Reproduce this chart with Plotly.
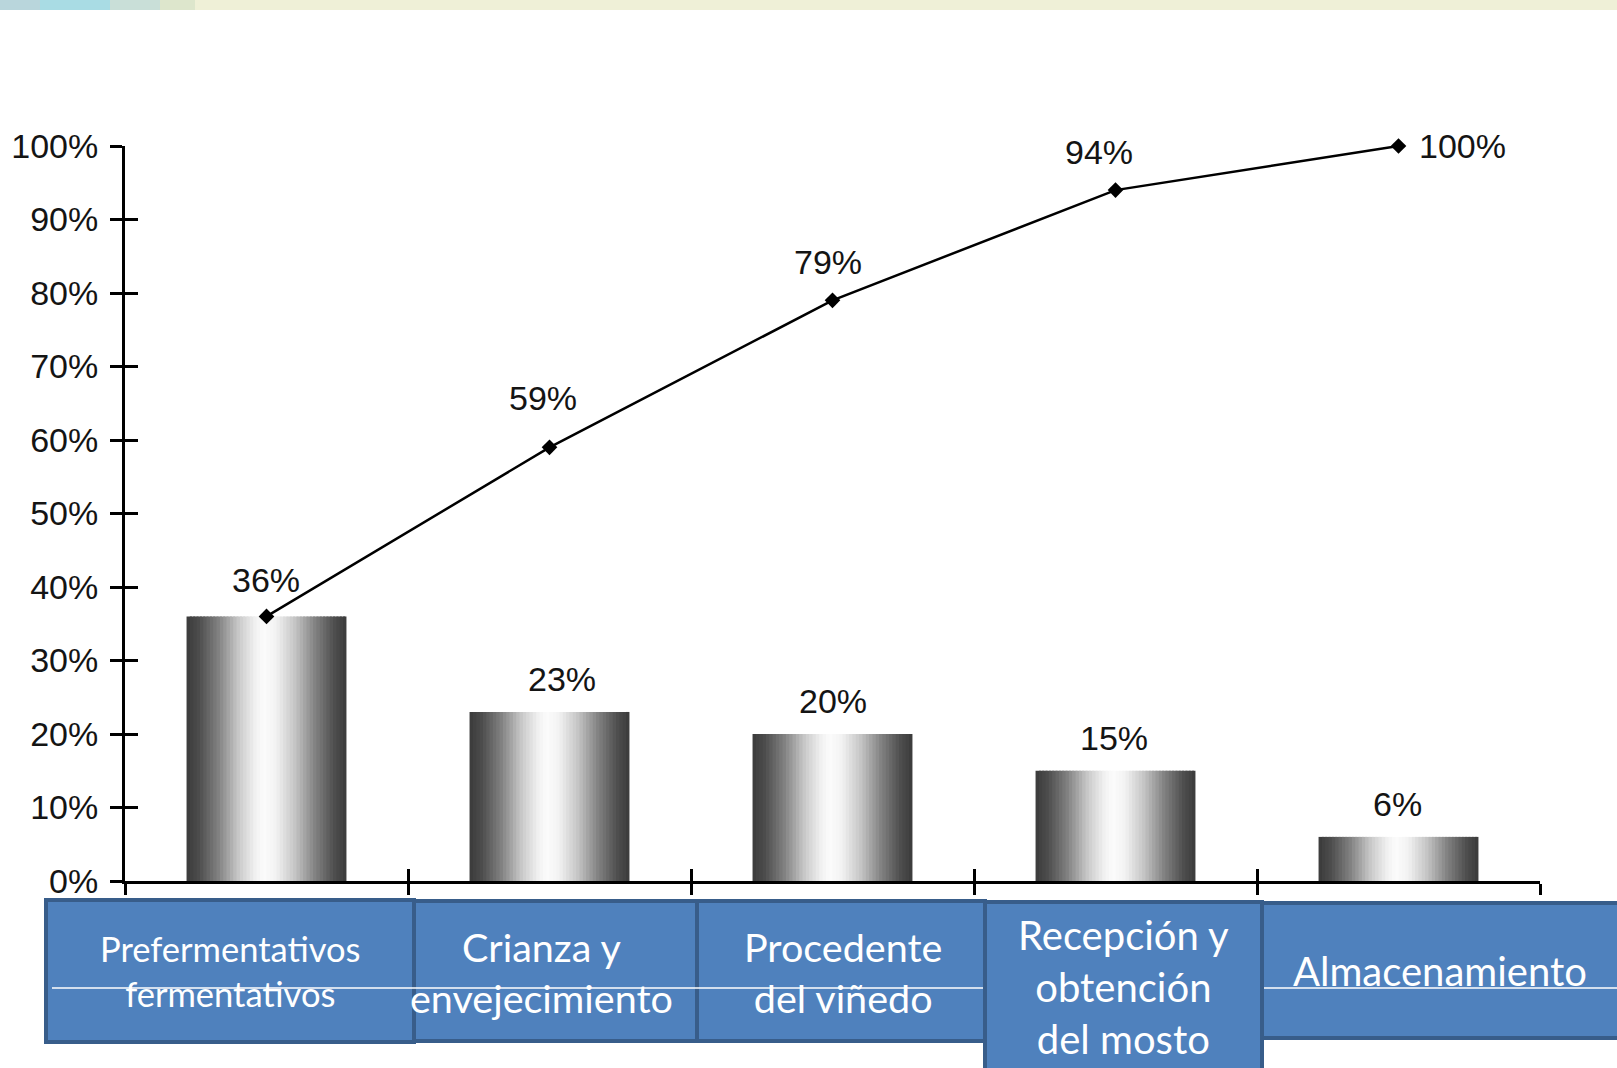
import numpy as np
import plotly.graph_objects as go

# --- data ---------------------------------------------------------------
categories = [
    "Prefermentativos fermentativos",
    "Crianza y envejecimiento",
    "Procedente del viñedo",
    "Recepción y obtención del mosto",
    "Almacenamiento",
]
share_pct = [36, 23, 20, 15, 6]          # share of each stage (bars)
cumulative_pct = [36, 59, 79, 94, 100]   # cumulative share (Pareto line)
y_ticks = [0, 10, 20, 30, 40, 50, 60, 70, 80, 90, 100]
box_labels = [
    "Prefermentativos<br>fermentativos",
    "Crianza y<br>envejecimiento",
    "Procedente<br>del viñedo",
    "Recepción y<br>obtención<br>del mosto",
    "Almacenamiento",
]

# --- canvas / helpers ---------------------------------------------------
W, H = 1617, 1068


def px(x):
    return x / W


def py(y):
    return 1 - y / H


fig = go.Figure()

# Cylinder-like shading: each bar is built from narrow vertical strips
bar_width = 0.565
n_strips = 48
t_ctrl = [0.0, 0.08, 0.2, 0.32, 0.42, 0.48, 0.56, 0.68, 0.8, 0.92, 1.0]
g_ctrl = [58, 78, 130, 198, 238, 252, 242, 196, 132, 80, 58]
strip_w = bar_width / n_strips
for k in range(n_strips):
    t = (k + 0.5) / n_strips
    g = int(round(np.interp(t, t_ctrl, g_ctrl)))
    fig.add_trace(go.Bar(
        x=categories, y=share_pct,
        offset=-bar_width / 2 + k * strip_w,
        width=strip_w * 1.6 if k < n_strips - 1 else strip_w,
        marker=dict(color=f"rgb({g},{g},{g})", line=dict(width=0)),
        hoverinfo="skip", showlegend=False,
    ))

# Cumulative line
fig.add_trace(go.Scatter(
    x=categories, y=cumulative_pct,
    mode="lines+markers",
    line=dict(color="black", width=2.5),
    marker=dict(symbol="diamond", size=12, color="black"),
    cliponaxis=False, showlegend=False,
))

# Companion axes that carry the inner half of the crossing tick marks
fig.add_trace(go.Scatter(
    x=categories, y=share_pct, xaxis="x2", yaxis="y2",
    mode="markers", marker=dict(opacity=0), hoverinfo="skip", showlegend=False,
))

label_font = dict(family="Liberation Sans, Arial, sans-serif", size=34, color="#141414")

annotations = []
# labels on the bars (the first coincides with the first cumulative label)
bar_label_dx = [0, 12, 0, -2, -1]
for i, (c, v) in enumerate(zip(categories, share_pct)):
    if i == 0:
        continue
    annotations.append(dict(
        x=c, y=v, xref="x", yref="y", text=f"{v}%", showarrow=False,
        xanchor="center", yanchor="middle", xshift=bar_label_dx[i], yshift=33,
        font=label_font,
    ))
# labels on the cumulative line
line_shift = [(-1, 36), (-7, 49), (-5, 38), (-17, 38)]
for i, (c, v) in enumerate(zip(categories, cumulative_pct)):
    if i < len(line_shift):
        dx, dy = line_shift[i]
        annotations.append(dict(
            x=c, y=v, xref="x", yref="y", text=f"{v}%", showarrow=False,
            xanchor="center", yanchor="middle", xshift=dx, yshift=dy, font=label_font,
        ))
    else:
        annotations.append(dict(
            x=c, y=v, xref="x", yref="y", text=f"{v}%", showarrow=False,
            xanchor="left", yanchor="middle", xshift=18, yshift=0, font=label_font,
        ))

# --- stage boxes under the axis ----------------------------------------
box_fill = "#4f81bd"
box_edge = "#385d8a"
# (left, top, right, bottom) in pixels, drawn in this stacking order
boxes = {
    1: (380, 901, 699, 1041),
    2: (697, 901, 985, 1041),
    4: (1258, 903, 1625, 1038),
    0: (46, 900, 414, 1042),
    3: (985, 902, 1262, 1080),
}
box_text = {
    0: dict(size=34.5, lines_y=971, dx=0),
    1: dict(size=39.5, lines_y=972, dx=2),
    2: dict(size=39.5, lines_y=972, dx=2),
    3: dict(size=40, lines_y=987, dx=0),
    4: dict(size=40, lines_y=971, dx=0),
}

shapes = []
# pale banner strip along the top edge
shapes.append(dict(type="rect", xref="paper", yref="paper", x0=0, x1=1,
                   y0=py(10), y1=1, fillcolor="#eff0d7", line=dict(width=0), layer="below"))
for x0, x1, col in [(0, 40, "#b9d6dc"), (40, 110, "#a9dce4"), (110, 160, "#c9dfd8"),
                    (160, 195, "#dde6cc")]:
    shapes.append(dict(type="rect", xref="paper", yref="paper", x0=px(x0), x1=px(x1),
                       y0=py(10), y1=1, fillcolor=col, line=dict(width=0), layer="below"))

for idx in [1, 2, 4, 0]:
    l, t, r, b = boxes[idx]
    shapes.append(dict(type="rect", xref="paper", yref="paper",
                       x0=px(l), x1=px(r), y0=py(b), y1=py(t),
                       fillcolor=box_fill, line=dict(color=box_edge, width=4), layer="above"))
# thin white rule running across the boxes
shapes.append(dict(type="line", xref="paper", yref="paper",
                   x0=px(52), x1=px(1617), y0=py(988), y1=py(988),
                   line=dict(color="white", width=1.5), layer="above"))
l, t, r, b = boxes[3]
shapes.append(dict(type="rect", xref="paper", yref="paper",
                   x0=px(l), x1=px(r), y0=py(b), y1=py(t),
                   fillcolor=box_fill, line=dict(color=box_edge, width=4), layer="above"))

for idx, lab in enumerate(box_labels):
    l, t, r, b = boxes[idx]
    cx = (l + min(r, 1622)) / 2 + box_text[idx]["dx"]
    annotations.append(dict(
        x=px(cx), y=py(box_text[idx]["lines_y"]), xref="paper", yref="paper",
        text=lab, showarrow=False, xanchor="center", yanchor="middle", align="center",
        font=dict(family="Lato, Noto Sans, sans-serif", size=box_text[idx]["size"], color="white"),
    ))

x_dom = [px(125), px(1540)]
y_dom = [py(881), py(146)]

fig.update_layout(
    width=W, height=H,
    margin=dict(l=0, r=0, t=0, b=0, autoexpand=False),
    paper_bgcolor="white", plot_bgcolor="white",
    barmode="overlay",
    showlegend=False,
    xaxis=dict(
        domain=x_dom, type="category", categoryorder="array", categoryarray=categories,
        range=[-0.5, 4.5], showgrid=False, zeroline=False, automargin=False,
        showline=True, linecolor="black", linewidth=3,
        ticks="outside", ticklen=11, tickwidth=2.5, tickcolor="black",
        tickson="boundaries", showticklabels=False, anchor="y",
    ),
    xaxis2=dict(
        domain=x_dom, type="category", categoryorder="array", categoryarray=categories,
        range=[-0.5, 4.5], overlaying="x", anchor="y2", showgrid=False, zeroline=False,
        showline=False, ticks="inside", ticklen=12, tickwidth=2.5, tickcolor="black",
        tickson="boundaries", showticklabels=False, automargin=False,
    ),
    yaxis=dict(
        domain=y_dom, range=[0, 100], tickvals=y_ticks,
        ticktext=[f"{v}%" for v in y_ticks],
        showgrid=False, zeroline=False, automargin=False,
        showline=True, linecolor="black", linewidth=3,
        ticks="outside", ticklen=12, tickwidth=2.5, tickcolor="black",
        tickfont=label_font, ticklabelstandoff=5, anchor="x",
    ),
    yaxis2=dict(
        domain=y_dom, range=[0, 100], tickvals=y_ticks, overlaying="y", anchor="x2",
        showgrid=False, zeroline=False, showline=False, automargin=False,
        ticks="inside", ticklen=13, tickwidth=2.5, tickcolor="black",
        showticklabels=False,
    ),
    shapes=shapes,
    annotations=annotations,
)

fig.write_html("out.html")
